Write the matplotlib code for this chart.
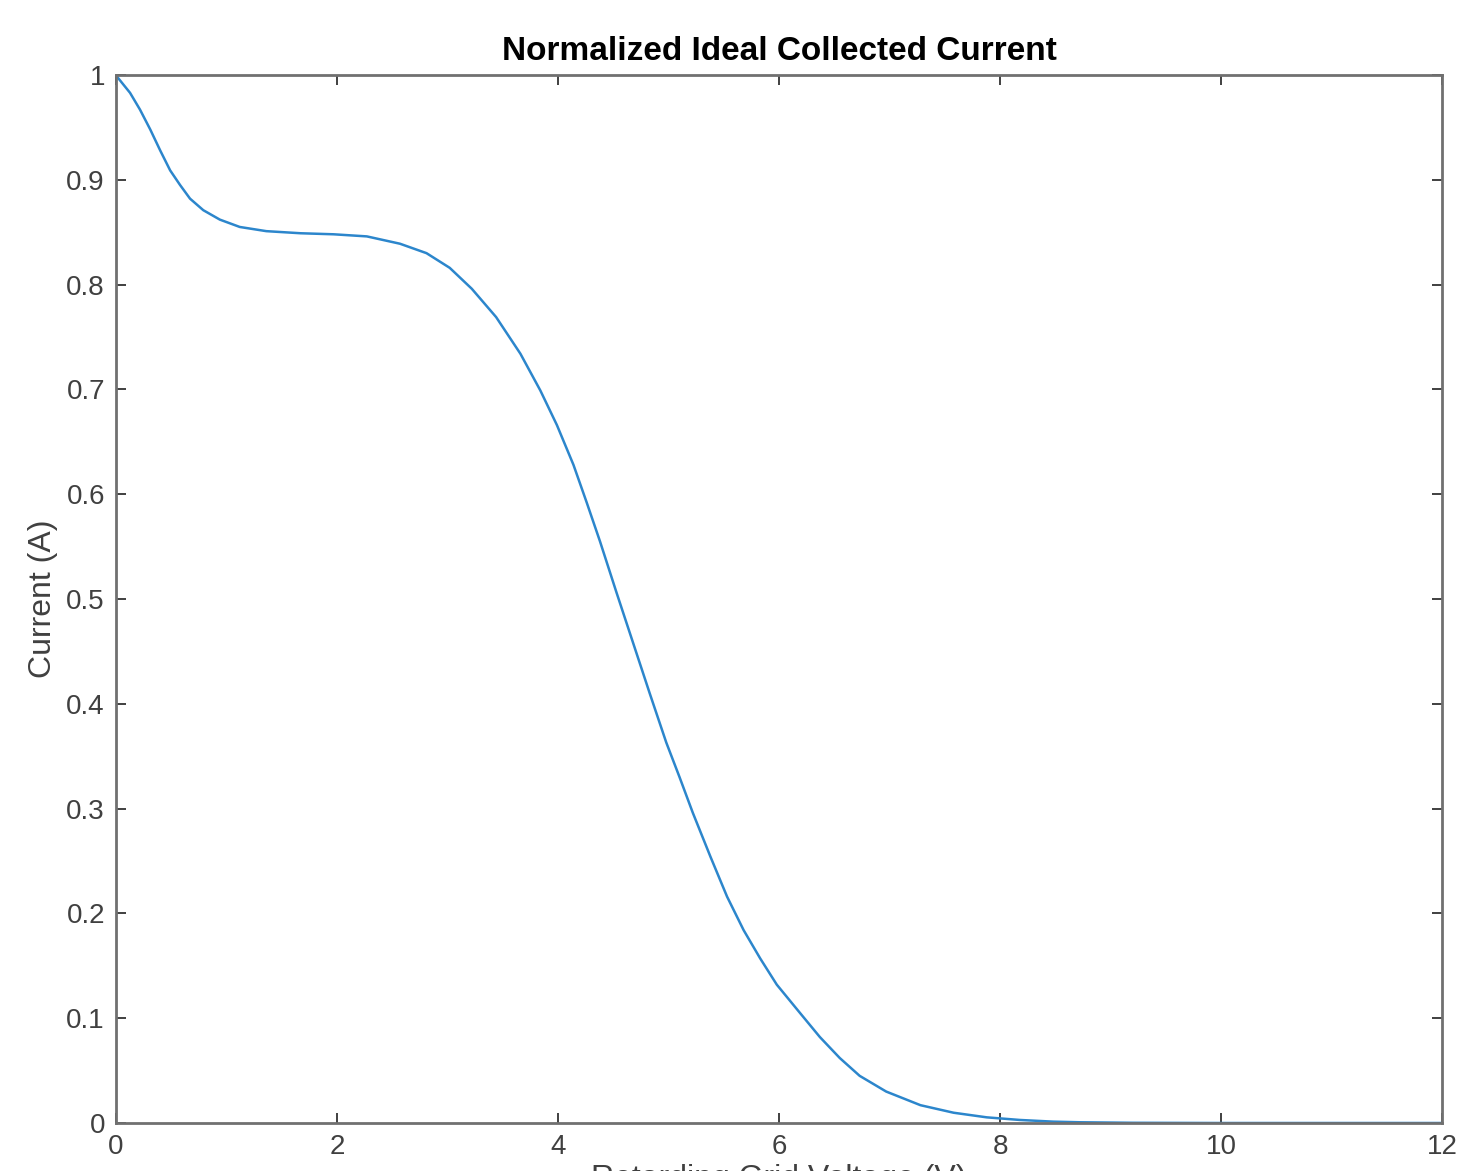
import matplotlib
matplotlib.use('Agg')
import matplotlib.pyplot as plt

plt.rcParams.update({
    'font.family': ['Liberation Sans', 'DejaVu Sans'],
    'font.size': 20,
})

# Values
voltage = [0.0, 0.02, 0.127, 0.217, 0.31, 0.40, 0.49, 0.58, 0.67, 0.79, 0.94,
           1.12, 1.36, 1.67, 1.97, 2.27, 2.57, 2.81, 3.02, 3.22, 3.44, 3.66,
           3.84, 3.99, 4.14, 4.26, 4.38, 4.53, 4.68, 4.83, 4.98, 5.10, 5.22,
           5.38, 5.53, 5.68, 5.83, 5.98, 6.19, 6.37, 6.55, 6.73, 6.97, 7.28,
           7.58, 7.88, 8.18, 8.48, 8.72, 9.2, 10.0, 11.0, 12.0]
current = [1.0, 0.997, 0.983, 0.967, 0.948, 0.928, 0.909, 0.895, 0.882, 0.871, 0.862,
           0.855, 0.851, 0.849, 0.848, 0.846, 0.839, 0.830, 0.816, 0.796, 0.769, 0.734,
           0.699, 0.666, 0.628, 0.592, 0.555, 0.506, 0.458, 0.410, 0.363, 0.330, 0.296,
           0.254, 0.216, 0.184, 0.157, 0.132, 0.105, 0.082, 0.062, 0.045, 0.030, 0.017,
           0.0098, 0.0054, 0.0029, 0.0013, 0.0007, 0.0002, 0.0, 0.0, 0.0]

x_ticks = [0, 2, 4, 6, 8, 10, 12]
y_ticks = [0, 0.1, 0.2, 0.3, 0.4, 0.5, 0.6, 0.7, 0.8, 0.9, 1]
y_tick_labels = ['0', '0.1', '0.2', '0.3', '0.4', '0.5', '0.6', '0.7', '0.8', '0.9', '1']

W, H = 1458, 1171
fig = plt.figure(figsize=(W / 100, H / 100), dpi=100)
ax = fig.add_axes([116 / W, (H - 1123) / H, (1442 - 116) / W, (1123 - 75) / H])

ax.plot(voltage, current, color='#2C86CC', linewidth=1.8)

ax.set_xlim(0, 12)
ax.set_ylim(0, 1)
ax.set_xticks(x_ticks)
ax.set_yticks(y_ticks)
ax.set_yticklabels(y_tick_labels)

for s in ax.spines.values():
    s.set_color('#707070')
    s.set_linewidth(2.0)
ax.tick_params(direction='in', top=True, right=True, length=7, width=1.4,
               color='#404040', labelcolor='#404040', labelsize=20, pad=8)

ax.set_title('Normalized Ideal Collected Current', fontsize=24, fontweight='bold', pad=11)
ax.set_ylabel('Current (A)', fontsize=23, color='#404040', labelpad=6)
ax.set_xlabel('Retarding Grid Voltage (V)', fontsize=23, color='#404040', labelpad=3)

fig.savefig('out.png', dpi=100)
